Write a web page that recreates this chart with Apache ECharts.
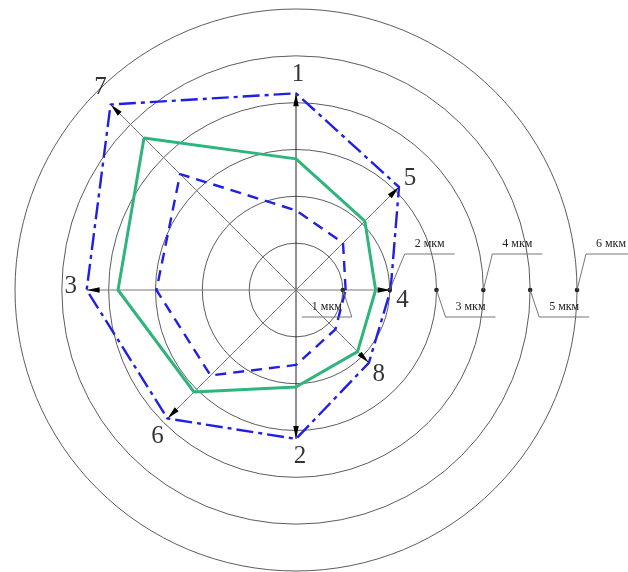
<!DOCTYPE html>
<html><head><meta charset="utf-8">
<script src="https://cdn.jsdelivr.net/npm/echarts@6/dist/echarts.min.js"></script>
<style>html,body{margin:0;padding:0;background:#fff}#c{width:628px;height:572px}</style>
</head><body><div id="c"></div>
<script>
// Axis directions (labels 1..8) and their angles (degrees, counter-clockwise from +x)
const axisNames  = ['1', '2', '3', '4', '5', '6', '7', '8'];
const axisAngles = [90, 270, 180, 0, 45, 225, 135, 315];
// Deviations, µm, per axis 1..8
const dashDotValues = [4.2, 3.18, 4.47, 2.02, 3.11, 3.88, 5.6, 2.2];
const greenValues   = [2.8, 2.07, 3.8, 1.7, 2.08, 3.08, 4.59, 1.86];
const dashedValues  = [1.7, 1.6, 2.98, 1.06, 1.42, 2.58, 3.5, 1.19];
// Ring (radius) ticks
const ringValues = [1, 2, 3, 4, 5, 6];
const ringLabels = ['1 мкм', '2 мкм', '3 мкм', '4 мкм', '5 мкм', '6 мкм'];

// styling (not data)
const labelOffsets = [[2,-19],[4,18],[-16,-4],[12,10],[11,-9],[-10,18],[-10,-17],[10,12]];
const BLUE = '#1f1fe6', GREEN = '#2db57c';
const SERIF = '"Liberation Serif","DejaVu Serif",serif';

function polygon(vals) {
  const idx = axisAngles.map((a, i) => i).sort((a, b) => axisAngles[a] - axisAngles[b]);
  const pts = idx.map(i => [vals[i], axisAngles[i]]);
  pts.push(pts[0]);
  return pts;
}

const chart = echarts.init(document.getElementById('c'), null, {renderer: 'canvas'});
const series = [];

// arrows (axis lines from center up to outer-curve vertex)
axisAngles.forEach((a, i) => {
  const h = 13, rad = a * Math.PI / 180;
  const vertical = (a === 90 || a === 270);
  series.push({
    type: 'line', coordinateSystem: 'polar', silent: true, z: 1,
    lineStyle: {color: vertical ? '#222' : '#777', width: 1},
    symbol: 'none', animation: false,
    data: [[0, a], {
      value: [dashDotValues[i], a],
      symbol: 'triangle', symbolSize: [5.5, h], symbolRotate: a - 90,
      symbolOffset: [-h / 2 * Math.cos(rad), h / 2 * Math.sin(rad)],
      itemStyle: {color: '#000'}
    }]
  });
});

series.push({
  type: 'line', coordinateSystem: 'polar', symbol: 'none', z: 3, animation: false,
  lineStyle: {color: GREEN, width: 3}, data: polygon(greenValues)
});
series.push({
  type: 'line', coordinateSystem: 'polar', symbol: 'none', z: 4, animation: false,
  lineStyle: {color: BLUE, width: 2.4, type: [11, 7]}, data: polygon(dashedValues)
});
series.push({
  type: 'line', coordinateSystem: 'polar', symbol: 'none', z: 4, animation: false,
  lineStyle: {color: BLUE, width: 2.4, type: [17, 5, 4, 5]}, data: polygon(dashDotValues)
});
// axis names
series.push({
  type: 'scatter', coordinateSystem: 'polar', symbolSize: 0, z: 5, animation: false,
  data: axisNames.map((n, i) => ({
    value: [dashDotValues[i], axisAngles[i]], name: n,
    label: {offset: labelOffsets[i]}
  })),
  label: {show: true, position: 'inside', formatter: p => p.name,
          fontFamily: SERIF, fontSize: 25, color: '#000'}
});

chart.setOption({
  animation: false,
  polar: {center: [296, 290], radius: 281},
  angleAxis: {type: 'value', min: 0, max: 360, startAngle: 0, clockwise: false,
    axisLine: {show: false},
    axisTick: {show: false}, axisLabel: {show: false}, splitLine: {show: false}},
  radiusAxis: {type: 'value', min: 0, max: 6, interval: 1,
    axisLine: {show: false}, axisTick: {show: false}, axisLabel: {show: false},
    splitLine: {show: true, lineStyle: {color: '#4a4a4a', width: 0.9}}},
  series: series
});

// ring value annotations (dots on the 0° axis with leader lines)
const g = [];
ringValues.forEach((v, k) => {
  const p = chart.convertToPixel({seriesIndex: 0}, [v, 0]);
  const odd = (v % 2 === 1);
  const q = odd ? [p[0] + 9, p[1] + 27] : [p[0] + (v === 2 ? 15 : 9), p[1] - 36];
  const shelfX = (v === 1) ? q[0] - 50 : q[0] + 50;
  const mid = (q[0] + shelfX) / 2;
  g.push({type: 'circle', shape: {cx: p[0], cy: p[1], r: 2.3}, style: {fill: '#222'}, z: 10});
  g.push({type: 'polyline', shape: {points: [p, q, [shelfX, q[1]]]},
          style: {stroke: '#666', lineWidth: 0.9, fill: null}, z: 10});
  g.push({type: 'text', x: mid, y: q[1] - 10, z: 10,
          style: {text: ringLabels[k], font: '12px ' + SERIF, fill: '#222',
                  align: 'center', verticalAlign: 'middle'}});
});
chart.setOption({graphic: g});
</script></body></html>
